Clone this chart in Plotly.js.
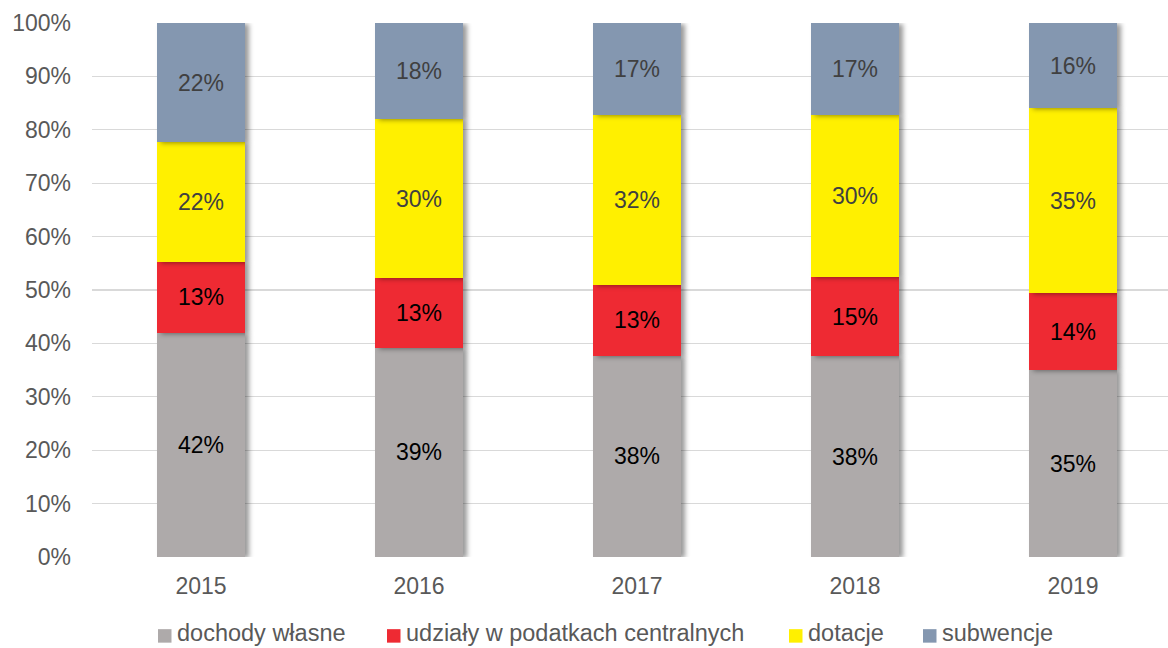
<!DOCTYPE html>
<html>
<head>
<meta charset="utf-8">
<script src="https://cdn.plot.ly/plotly-3.0.1.min.js"></script>
<style>
html,body{margin:0;padding:0;background:#fff;}
#chart{width:1168px;height:648px;}
.barlayer .point path{filter:drop-shadow(4px 1px 2.5px rgba(0,0,0,0.4));}
</style>
</head>
<body>
<div id="chart"></div>
<script>
const years = ['2015','2016','2017','2018','2019'];
const seriesNames = ['dochody własne','udziały w podatkach centralnych','dotacje','subwencje'];
const dochodyWlasne = [41.9, 39.2, 37.7, 37.6, 34.95];
const udzialy = [13.4, 13.0, 13.3, 14.8, 14.45];
const dotacje = [22.4, 29.8, 31.7, 30.4, 34.6];
const subwencje = [22.3, 18.0, 17.3, 17.2, 16.0];
const yTickVals = [0,10,20,30,40,50,60,70,80,90,100];
const yTickText = ['0%','10%','20%','30%','40%','50%','60%','70%','80%','90%','100%'];

const FONT = 'Arial, "Liberation Sans", sans-serif';
const colors = ['#AEAAAA','#EE2A33','#FFF000','#8497B0'];
const txtColors = ['#000000','#000000','#404040','#404040'];
const seriesVals = [dochodyWlasne, udzialy, dotacje, subwencje];

const data = seriesVals.map((vals,i)=>({
  type:'bar', name:seriesNames[i], x:years, y:vals,
  marker:{color:colors[i], line:{width:0}},
  width:0.4,
  texttemplate:'%{y:.0f}%', textposition:'inside', insidetextanchor:'middle',
  textangle:0, constraintext:'none',
  textfont:{family:FONT, size:23, color:txtColors[i]},
  hoverinfo:'skip', showlegend:false
}));

// Custom legend (pixel layout of the reference converted to paper coords)
const L = 92, W = 1076, T = 23, H = 534.3;
const px = x => (x - L) / W;
const py = y => (T + H - y) / H;
const legendSquareX = [158, 387, 789, 923];
const legendTextX = [176, 405, 807, 940.5];
const shapes = [], annotations = [];
seriesNames.forEach((n,i)=>{
  shapes.push({type:'rect', xref:'paper', yref:'paper', x0:px(legendSquareX[i]), x1:px(legendSquareX[i]+13.5),
    y0:py(643), y1:py(629.5), fillcolor:colors[i], line:{width:0}});
  annotations.push({xref:'paper', yref:'paper', x:px(legendTextX[i]), y:py(633), xanchor:'left', yanchor:'middle',
    text:n, showarrow:false, borderpad:0, font:{family:FONT, size:23.5, color:'#595959'}});
});

const layout = {
  width:1168, height:648,
  margin:{l:92, r:0, t:23, b:648-557.3, pad:0, autoexpand:false},
  paper_bgcolor:'#ffffff', plot_bgcolor:'#ffffff',
  barmode:'stack',
  font:{family:FONT, size:23, color:'#595959'},
  xaxis:{type:'category', range:[-0.5, -0.5+1076/218], showgrid:false, zeroline:false,
         showline:false, ticks:'', ticklabelstandoff:13, tickfont:{size:23, color:'#595959'}, fixedrange:true, automargin:false},
  yaxis:{range:[0,100], tickvals:yTickVals, ticktext:yTickText, showgrid:true, gridcolor:'#D9D9D9', gridwidth:1.3,
         zeroline:false, showline:false, ticks:'', ticklabelstandoff:20, tickfont:{size:23, color:'#595959'}, fixedrange:true, automargin:false},
  showlegend:false,
  shapes:shapes, annotations:annotations
};
Plotly.newPlot('chart', data, layout, {displayModeBar:false, staticPlot:true});
</script>
</body>
</html>
